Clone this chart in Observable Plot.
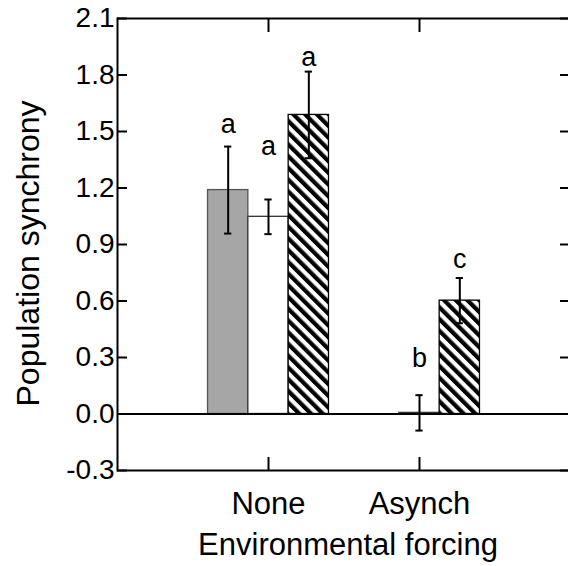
<!DOCTYPE html>
<html>
<head>
<meta charset="utf-8">
<script src="https://cdn.jsdelivr.net/npm/d3@7"></script>
<script src="https://cdn.jsdelivr.net/npm/@observablehq/plot@0.6"></script>
<style>
  html, body { margin: 0; padding: 0; background: #fff; overflow: hidden; }
</style>
</head>
<body>
<div id="chart"></div>
<script>
// ---- data ----
const categories = ["None", "Asynch"];
const yTicks = [-0.3, 0.0, 0.3, 0.6, 0.9, 1.2, 1.5, 1.8, 2.1];

// three treatments per forcing category (null = no bar)
const grayMean  = [1.189, null];
const grayErr   = [0.231, null];
const openMean  = [1.047, 0.006];
const openErr   = [0.092, 0.094];
const hatchMean = [1.588, 0.602];
const hatchErr  = [0.230, 0.120];

// significance letters and their heights
const grayLetter   = ["a", null];
const grayLetterY  = [1.536, null];
const openLetter   = ["a", "b"];
const openLetterY  = [1.422, 0.296];
const hatchLetter  = ["a", "c"];
const hatchLetterY = [1.895, 0.822];

// ---- build table ----
const series = [
  {key: "gray",  mean: grayMean,  err: grayErr,  letter: grayLetter,  ly: grayLetterY,  slot: -1},
  {key: "open",  mean: openMean,  err: openErr,  letter: openLetter,  ly: openLetterY,  slot: 0},
  {key: "hatch", mean: hatchMean, err: hatchErr, letter: hatchLetter, ly: hatchLetterY, slot: 1}
];
const barW = 0.267;   // bar width in x units (one category step = 1)
const capW = 0.024;   // half width of error caps
const rows = [];
series.forEach(s => categories.forEach((c, i) => {
  if (s.mean[i] == null) return;
  const center = i + 1 + s.slot * barW;
  rows.push({key: s.key, cat: c, center, x1: center - barW / 2, x2: center + barW / 2,
             mean: s.mean[i], err: s.err[i], letter: s.letter[i], ly: s.ly[i]});
}));
const fills = {gray: "#a6a6a6", open: "#ffffff", hatch: "url(#hatch)"};
const strokes = {gray: "#555555", open: "#333333", hatch: "#000000"};
const catPos = categories.map((c, i) => i + 1);

const fw = 453, fh = 452; // frame size used for tick insets

const svg = Plot.plot({
  width: 568,
  height: 566,
  marginLeft: 117,
  marginRight: -2,
  marginTop: 18,
  marginBottom: 96,
  style: {fontFamily: "'Liberation Sans', Arial, sans-serif", fontSize: "26px", color: "#000", background: "#fff"},
  x: {domain: [0, 3], axis: null},
  y: {domain: [-0.3, 2.1], axis: null},
  marks: [
    Plot.rectY(rows, {x1: "x1", x2: "x2", y1: 0, y2: "mean",
      fill: d => fills[d.key], stroke: d => strokes[d.key], strokeWidth: 1.3}),
    Plot.ruleY([0], {stroke: "#000", strokeWidth: 2}),
    Plot.ruleX(rows, {x: "center", y1: d => d.mean - d.err, y2: d => d.mean + d.err, stroke: "#000", strokeWidth: 2}),
    Plot.ruleY(rows, {y: d => d.mean + d.err, x1: d => d.center - capW, x2: d => d.center + capW, stroke: "#000", strokeWidth: 2}),
    Plot.ruleY(rows, {y: d => d.mean - d.err, x1: d => d.center - capW, x2: d => d.center + capW, stroke: "#000", strokeWidth: 2}),
    Plot.text(rows.filter(d => d.letter), {x: "center", y: "ly", text: "letter", fontSize: 27, fill: "#000"}),
    // inward ticks on all four sides
    Plot.tickY(yTicks, {y: d => d, insetRight: fw - 10, stroke: "#000", strokeWidth: 2}),
    Plot.tickY(yTicks, {y: d => d, insetLeft: fw - 10, stroke: "#000", strokeWidth: 2}),
    Plot.tickX(catPos, {x: d => d, insetBottom: fh - 14, stroke: "#000", strokeWidth: 2}),
    Plot.tickX(catPos, {x: d => d, insetTop: fh - 13, stroke: "#000", strokeWidth: 2}),
    Plot.frame({stroke: "#000", strokeWidth: 2}),
    Plot.axisY({ticks: yTicks, tickSize: 0, tickPadding: 3, tickFormat: d => d.toFixed(1), fontSize: 28, label: null}),
    Plot.axisX({ticks: catPos, tickSize: 0, tickPadding: 21, tickFormat: d => categories[d - 1], fontSize: 31, label: null}),
    Plot.text(["Environmental forcing"], {frameAnchor: "bottom", lineAnchor: "top", dy: 62, dx: 4, fontSize: 31, fill: "#000"}),
    Plot.text(["Population synchrony"], {frameAnchor: "left", textAnchor: "middle", rotate: -90, dx: -89, dy: 9, fontSize: 32, fill: "#000"})
  ]
});

// hatch pattern: black diagonal stripes running top-left to bottom-right
const defs = d3.select(svg).insert("defs", ":first-child");
const pat = defs.append("pattern")
  .attr("id", "hatch")
  .attr("patternUnits", "userSpaceOnUse")
  .attr("width", 8.3).attr("height", 8.3)
  .attr("patternTransform", "rotate(-45)");
pat.append("rect").attr("width", 8.3).attr("height", 8.3).attr("fill", "#fff");
pat.append("rect").attr("width", 4.2).attr("height", 8.3).attr("fill", "#000");

document.getElementById("chart").appendChild(svg);
</script>
</body>
</html>
